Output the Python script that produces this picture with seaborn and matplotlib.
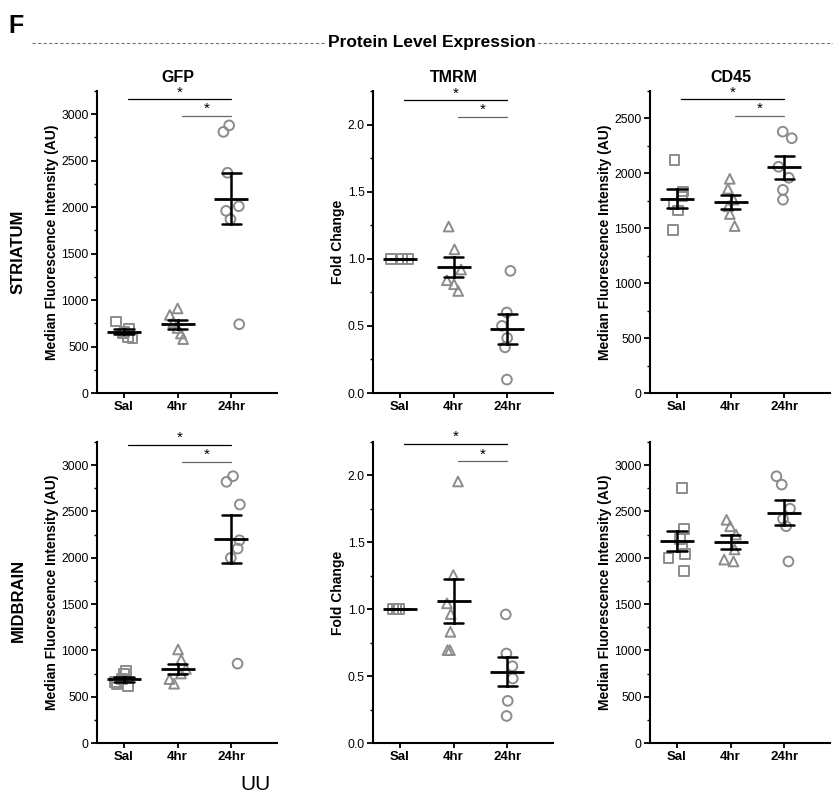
import matplotlib
matplotlib.use("Agg")
import matplotlib.pyplot as plt
import matplotlib.ticker as mticker
from matplotlib.lines import Line2D
import seaborn as sns
import pandas as pd
import numpy as np

# Grupos e marcadores
grupos = ["Sal", "4hr", "24hr"]
marcadores = ["s", "^", "o"]

# Valores (striatum)
str_gfp = {"Sal": [770, 690, 640, 600, 590, 660],
           "4hr": [910, 840, 760, 700, 640, 580],
           "24hr": [2880, 2810, 2370, 2010, 1960, 1870, 740]}
str_tmrm = {"Sal": [1.0, 1.0, 1.0],
            "4hr": [1.24, 1.07, 0.92, 0.84, 0.81, 0.76],
            "24hr": [0.91, 0.60, 0.50, 0.41, 0.34, 0.10]}
str_cd45 = {"Sal": [2119, 1836, 1790, 1720, 1663, 1486],
            "4hr": [1950, 1860, 1760, 1700, 1630, 1520],
            "24hr": [2380, 2320, 2060, 1960, 1850, 1760]}

# Valores (midbrain)
mid_gfp = {"Sal": [780, 750, 690, 660, 640, 610],
           "4hr": [1010, 900, 800, 750, 690, 640],
           "24hr": [2881, 2820, 2575, 2189, 2099, 1999, 857]}
mid_tmrm = {"Sal": [1.0, 1.0, 1.0],
            "4hr": [1.955, 1.256, 1.044, 0.964, 0.831, 0.694, 0.694],
            "24hr": [0.961, 0.669, 0.574, 0.482, 0.315, 0.202]}
mid_cd45 = {"Sal": [2750, 2310, 2200, 2130, 2040, 2000, 1860],
            "4hr": [2410, 2340, 2250, 2090, 1980, 1960],
            "24hr": [2880, 2790, 2530, 2420, 2340, 1960]}

sns.set_style("ticks")
plt.rcParams["font.family"] = ["Liberation Sans", "DejaVu Sans"]
for chave in ["text.color", "axes.labelcolor", "xtick.color", "ytick.color", "axes.edgecolor"]:
    plt.rcParams[chave] = "black"

CINZA = "#8c8c8c"
np.random.seed(7)  # jitter reprodutivel


def painel(ax, valores, ylim, passo, ylabel, fmt, sig=None, titulo=None):
    """Desenha um painel: pontos individuais + media +- EPM."""
    df = pd.DataFrame([(g, v) for g in grupos for v in valores[g]],
                      columns=["grupo", "valor"])

    # Pontos individuais (vazados, cinza)
    for g, m in zip(grupos, marcadores):
        sns.stripplot(data=df[df["grupo"] == g], x="grupo", y="valor", order=grupos,
                      marker=m, size=7, jitter=0.17, color=CINZA, facecolor="none",
                      edgecolor=CINZA, linewidth=1.4, ax=ax, zorder=2)

    # Media e erro padrao
    sns.pointplot(data=df, x="grupo", y="valor", order=grupos, errorbar="se",
                  capsize=0.36, color="black", marker="_", markersize=24,
                  markeredgewidth=2, linestyle="none",
                  err_kws={"linewidth": 1.8}, ax=ax, zorder=3)

    ax.set_xlim(-0.5, 2.85)
    ax.set_ylim(*ylim)
    ax.yaxis.set_major_locator(mticker.MultipleLocator(passo))
    ax.yaxis.set_minor_locator(mticker.MultipleLocator(passo / 2))
    ax.yaxis.set_major_formatter(mticker.StrMethodFormatter(fmt))
    ax.set_xlabel("")
    ax.set_ylabel(ylabel, fontsize=10, fontweight="bold", labelpad=2)
    ax.tick_params(axis="y", which="major", direction="out", length=4, width=1.3,
                   labelsize=8.7, pad=2)
    ax.tick_params(axis="y", which="minor", direction="out", length=2.5, width=1)
    ax.tick_params(axis="x", direction="out", length=3.5, width=1.3, labelsize=9.5, pad=2)
    for lab in ax.get_xticklabels():
        lab.set_fontweight("bold")
    sns.despine(ax=ax)
    for s in ["left", "bottom"]:
        ax.spines[s].set_linewidth(1.5)

    # Barras de significancia
    if sig is not None:
        for (x0, x1, y, cor) in sig:
            ax.plot([x0 + 0.08, x1], [y, y], color=cor, lw=0.9, clip_on=False)
            ax.text((x0 + 0.08 + x1) / 2, y, "*", ha="center", va="bottom",
                    fontsize=11, clip_on=False)

    if titulo is not None:
        ax.text(1, 1.02, titulo, transform=ax.get_xaxis_transform(),
                ha="center", va="bottom", fontsize=11.5, fontweight="bold")


fig = plt.figure(figsize=(8.33, 7.92), dpi=100)

esquerdas = [97 / 833, 373 / 833, 650 / 833]
largura = 180 / 833
ax_sup = [fig.add_axes([x, 1 - 393 / 792, largura, 302 / 792]) for x in esquerdas]
ax_inf = [fig.add_axes([x, 1 - 743 / 792, largura, 301 / 792]) for x in esquerdas]

rot_mfi = "Median Fluorescence Intensity (AU)"
painel(ax_sup[0], str_gfp, (0, 3250), 500, rot_mfi, "{x:.0f}",
       sig=[(0, 2, 3160, "black"), (1, 2, 2980, "#666666")], titulo="GFP")
painel(ax_sup[1], str_tmrm, (0, 2.25), 0.5, "Fold Change", "{x:.1f}",
       sig=[(0, 2, 2.18, "black"), (1, 2, 2.057, "#666666")], titulo="TMRM")
painel(ax_sup[2], str_cd45, (0, 2750), 500, rot_mfi, "{x:.0f}",
       sig=[(0, 2, 2673, "black"), (1, 2, 2521, "#666666")], titulo="CD45")

painel(ax_inf[0], mid_gfp, (0, 3250), 500, rot_mfi, "{x:.0f}",
       sig=[(0, 2, 3223, "black"), (1, 2, 3036, "#666666")])
painel(ax_inf[1], mid_tmrm, (0, 2.25), 0.5, "Fold Change", "{x:.1f}",
       sig=[(0, 2, 2.235, "black"), (1, 2, 2.105, "#666666")])
painel(ax_inf[2], mid_cd45, (0, 3250), 500, rot_mfi, "{x:.0f}")

# Rotulos das linhas
fig.text(18 / 833, 1 - 252 / 792, "STRIATUM", rotation=90, ha="center", va="center",
         fontsize=12, fontweight="bold")
fig.text(18 / 833, 1 - 600 / 792, "MIDBRAIN", rotation=90, ha="center", va="center",
         fontsize=12, fontweight="bold")

# Cabecalho
fig.text(8 / 833, 1 - 26 / 792, "F", ha="left", va="center", fontsize=18,
         fontweight="bold")
y_linha = 1 - 43 / 792
fig.add_artist(Line2D([32 / 833, 1.0], [y_linha, y_linha], transform=fig.transFigure,
                      color="#777777", lw=0.8, linestyle=(0, (3, 2))))
fig.text(432 / 833, y_linha, "Protein Level Expression", ha="center", va="center",
         fontsize=12.5, fontweight="bold",
         bbox=dict(facecolor="white", edgecolor="none", pad=1))

# Fragmento de texto cortado no rodape
fig.text(255 / 833, 1 - 784 / 792, "UU", ha="center", va="center", fontsize=15)

fig.savefig("out.png", dpi=100)
